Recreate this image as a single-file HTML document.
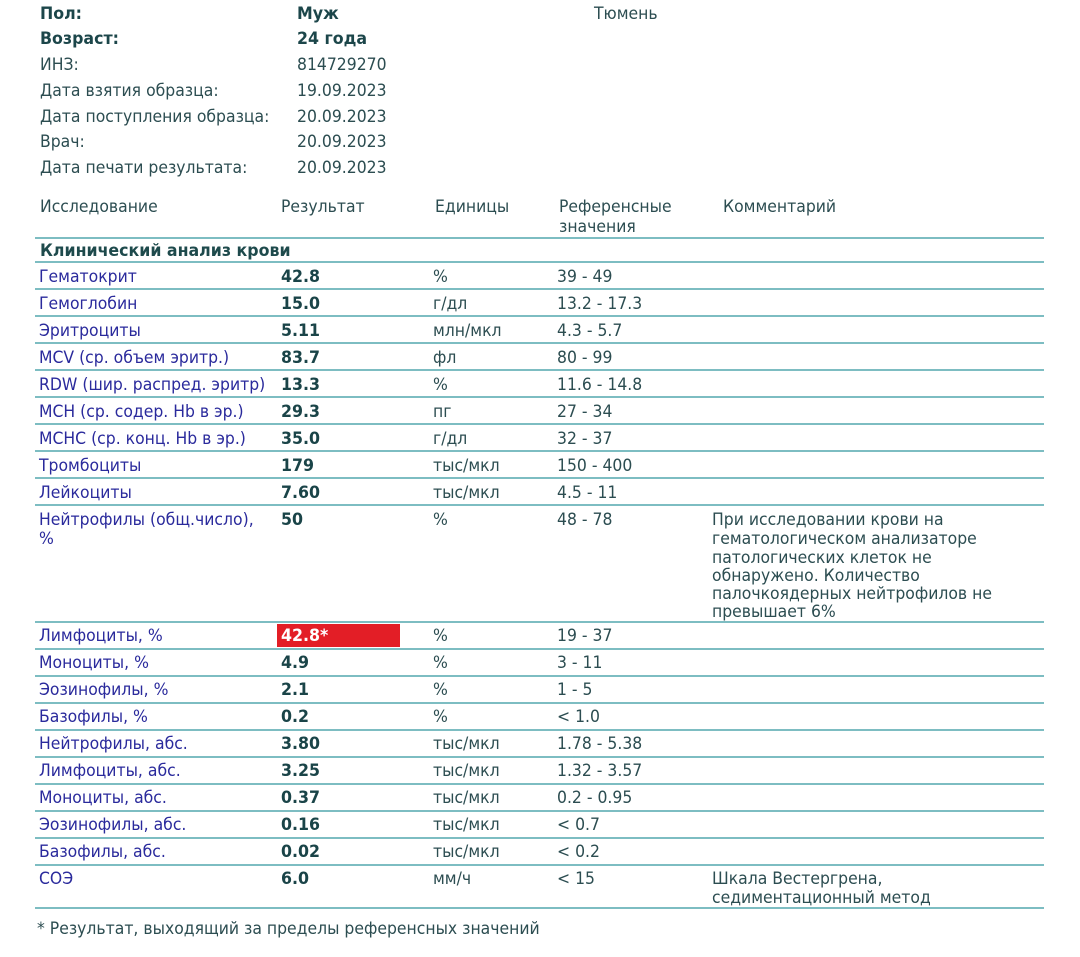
<!DOCTYPE html>
<html><head><meta charset="utf-8">
<style>
html,body{margin:0;padding:0;background:#fff;}
body{width:1080px;height:957px;position:relative;overflow:hidden;}
.t{position:absolute;white-space:nowrap;transform-origin:0 0;transform:scaleX(.92);font-family:"DejaVu Sans","Liberation Sans",sans-serif;font-size:17px;line-height:20px;color:#2c4d51;margin-top:1px;}
.b{font-weight:bold;transform:scaleX(.93);color:#1c464a;}
.l{color:#2a2a9c;}
.v{font-weight:bold;transform:scaleX(.93);color:#1a4448;left:281px;}
.u{left:433px;}
.r{left:557px;}
.c{left:712px;}
.ln{position:absolute;left:35px;width:1009px;height:2px;background:#7dbdc2;}
.red{position:absolute;left:277px;top:624px;width:123px;height:23px;background:#e31e26;}
</style></head><body>

<!-- header info -->
<div class="t b" style="left:40px;top:3px">Пол:</div>
<div class="t b" style="left:297px;top:3px">Муж</div>
<div class="t" style="left:594px;top:3px">Тюмень</div>
<div class="t b" style="left:40px;top:28px">Возраст:</div>
<div class="t b" style="left:297px;top:28px">24 года</div>
<div class="t" style="left:40px;top:54px">ИНЗ:</div>
<div class="t" style="left:297px;top:54px">814729270</div>
<div class="t" style="left:40px;top:80px">Дата взятия образца:</div>
<div class="t" style="left:297px;top:80px">19.09.2023</div>
<div class="t" style="left:40px;top:106px">Дата поступления образца:</div>
<div class="t" style="left:297px;top:106px">20.09.2023</div>
<div class="t" style="left:40px;top:131px">Врач:</div>
<div class="t" style="left:297px;top:131px">20.09.2023</div>
<div class="t" style="left:40px;top:157px">Дата печати результата:</div>
<div class="t" style="left:297px;top:157px">20.09.2023</div>

<!-- column headers -->
<div class="t" style="left:40px;top:196px">Исследование</div>
<div class="t" style="left:281px;top:196px">Результат</div>
<div class="t" style="left:435px;top:196px">Единицы</div>
<div class="t" style="left:559px;top:196px">Референсные</div>
<div class="t" style="left:559px;top:216px">значения</div>
<div class="t" style="left:723px;top:196px">Комментарий</div>

<!-- lines -->
<div class="ln" style="top:237px"></div>
<div class="ln" style="top:261px"></div>
<div class="ln" style="top:288px"></div>
<div class="ln" style="top:315px"></div>
<div class="ln" style="top:342px"></div>
<div class="ln" style="top:369px"></div>
<div class="ln" style="top:396px"></div>
<div class="ln" style="top:423px"></div>
<div class="ln" style="top:450px"></div>
<div class="ln" style="top:477px"></div>
<div class="ln" style="top:504px"></div>
<div class="ln" style="top:621px"></div>
<div class="ln" style="top:648px"></div>
<div class="ln" style="top:675px"></div>
<div class="ln" style="top:702px"></div>
<div class="ln" style="top:729px"></div>
<div class="ln" style="top:756px"></div>
<div class="ln" style="top:783px"></div>
<div class="ln" style="top:810px"></div>
<div class="ln" style="top:837px"></div>
<div class="ln" style="top:864px"></div>
<div class="ln" style="top:907px"></div>

<div class="t b" style="left:40px;top:240px;color:#1e4a4c">Клинический анализ крови</div>

<!-- rows -->
<div class="t l" style="left:39px;top:266px">Гематокрит</div>
<div class="t v" style="top:266px">42.8</div>
<div class="t u" style="top:266px">%</div>
<div class="t r" style="top:266px">39 - 49</div>

<div class="t l" style="left:39px;top:293px">Гемоглобин</div>
<div class="t v" style="top:293px">15.0</div>
<div class="t u" style="top:293px">г/дл</div>
<div class="t r" style="top:293px">13.2 - 17.3</div>

<div class="t l" style="left:39px;top:320px">Эритроциты</div>
<div class="t v" style="top:320px">5.11</div>
<div class="t u" style="top:320px">млн/мкл</div>
<div class="t r" style="top:320px">4.3 - 5.7</div>

<div class="t l" style="left:39px;top:347px">MCV (ср. объем эритр.)</div>
<div class="t v" style="top:347px">83.7</div>
<div class="t u" style="top:347px">фл</div>
<div class="t r" style="top:347px">80 - 99</div>

<div class="t l" style="left:39px;top:374px">RDW (шир. распред. эритр)</div>
<div class="t v" style="top:374px">13.3</div>
<div class="t u" style="top:374px">%</div>
<div class="t r" style="top:374px">11.6 - 14.8</div>

<div class="t l" style="left:39px;top:401px">MCH (ср. содер. Hb в эр.)</div>
<div class="t v" style="top:401px">29.3</div>
<div class="t u" style="top:401px">пг</div>
<div class="t r" style="top:401px">27 - 34</div>

<div class="t l" style="left:39px;top:428px">MCHC (ср. конц. Hb в эр.)</div>
<div class="t v" style="top:428px">35.0</div>
<div class="t u" style="top:428px">г/дл</div>
<div class="t r" style="top:428px">32 - 37</div>

<div class="t l" style="left:39px;top:455px">Тромбоциты</div>
<div class="t v" style="top:455px">179</div>
<div class="t u" style="top:455px">тыс/мкл</div>
<div class="t r" style="top:455px">150 - 400</div>

<div class="t l" style="left:39px;top:482px">Лейкоциты</div>
<div class="t v" style="top:482px">7.60</div>
<div class="t u" style="top:482px">тыс/мкл</div>
<div class="t r" style="top:482px">4.5 - 11</div>

<div class="t l" style="left:39px;top:509px">Нейтрофилы (общ.число),</div>
<div class="t l" style="left:39px;top:528px">%</div>
<div class="t v" style="top:509px">50</div>
<div class="t u" style="top:509px">%</div>
<div class="t r" style="top:509px">48 - 78</div>
<div class="t c" style="top:509px">При исследовании крови на</div>
<div class="t c" style="top:528px">гематологическом анализаторе</div>
<div class="t c" style="top:547px">патологических клеток не</div>
<div class="t c" style="top:565px">обнаружено. Количество</div>
<div class="t c" style="top:583px">палочкоядерных нейтрофилов не</div>
<div class="t c" style="top:601px">превышает 6%</div>

<div class="red"></div>
<div class="t l" style="left:39px;top:625px">Лимфоциты, %</div>
<div class="t v" style="top:625px;color:#fff">42.8*</div>
<div class="t u" style="top:625px">%</div>
<div class="t r" style="top:625px">19 - 37</div>

<div class="t l" style="left:39px;top:652px">Моноциты, %</div>
<div class="t v" style="top:652px">4.9</div>
<div class="t u" style="top:652px">%</div>
<div class="t r" style="top:652px">3 - 11</div>

<div class="t l" style="left:39px;top:679px">Эозинофилы, %</div>
<div class="t v" style="top:679px">2.1</div>
<div class="t u" style="top:679px">%</div>
<div class="t r" style="top:679px">1 - 5</div>

<div class="t l" style="left:39px;top:706px">Базофилы, %</div>
<div class="t v" style="top:706px">0.2</div>
<div class="t u" style="top:706px">%</div>
<div class="t r" style="top:706px">&lt; 1.0</div>

<div class="t l" style="left:39px;top:733px">Нейтрофилы, абс.</div>
<div class="t v" style="top:733px">3.80</div>
<div class="t u" style="top:733px">тыс/мкл</div>
<div class="t r" style="top:733px">1.78 - 5.38</div>

<div class="t l" style="left:39px;top:760px">Лимфоциты, абс.</div>
<div class="t v" style="top:760px">3.25</div>
<div class="t u" style="top:760px">тыс/мкл</div>
<div class="t r" style="top:760px">1.32 - 3.57</div>

<div class="t l" style="left:39px;top:787px">Моноциты, абс.</div>
<div class="t v" style="top:787px">0.37</div>
<div class="t u" style="top:787px">тыс/мкл</div>
<div class="t r" style="top:787px">0.2 - 0.95</div>

<div class="t l" style="left:39px;top:814px">Эозинофилы, абс.</div>
<div class="t v" style="top:814px">0.16</div>
<div class="t u" style="top:814px">тыс/мкл</div>
<div class="t r" style="top:814px">&lt; 0.7</div>

<div class="t l" style="left:39px;top:841px">Базофилы, абс.</div>
<div class="t v" style="top:841px">0.02</div>
<div class="t u" style="top:841px">тыс/мкл</div>
<div class="t r" style="top:841px">&lt; 0.2</div>

<div class="t l" style="left:39px;top:868px">СОЭ</div>
<div class="t v" style="top:868px">6.0</div>
<div class="t u" style="top:868px">мм/ч</div>
<div class="t r" style="top:868px">&lt; 15</div>
<div class="t c" style="top:868px">Шкала Вестергрена,</div>
<div class="t c" style="top:887px">седиментационный метод</div>

<div class="t" style="left:37px;top:918px">* Результат, выходящий за пределы референсных значений</div>

</body></html>
